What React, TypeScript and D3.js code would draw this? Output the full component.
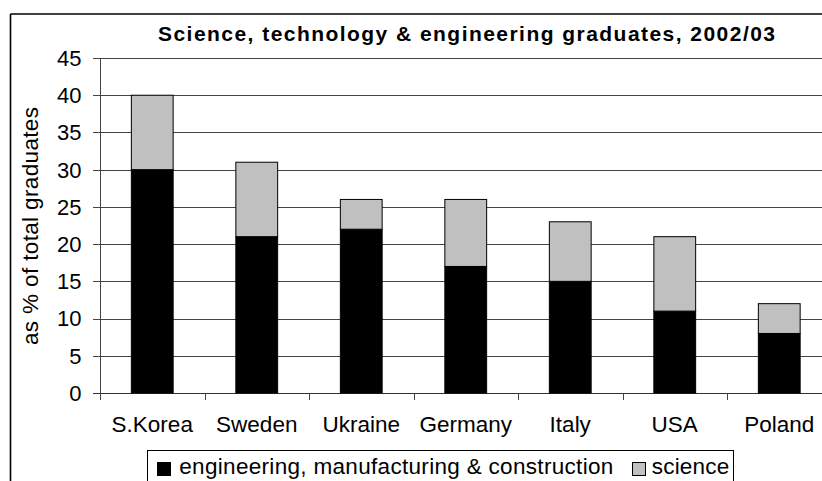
import React from "react";
import * as d3 from "d3";

const categories = ["S.Korea", "Sweden", "Ukraine", "Germany", "Italy", "USA", "Poland"];
const engineering = [30, 21, 22, 17, 15, 11, 8];
const science = [10, 10, 4, 9, 8, 10, 4];
const yTicks = [0, 5, 10, 15, 20, 25, 30, 35, 40, 45];
const title = "Science, technology & engineering graduates, 2002/03";
const yTitle = "as % of total graduates";
const seriesNames = ["engineering, manufacturing & construction", "science"];

const W = 822;
const H = 481;
const FONT = "'Liberation Sans', Arial, Helvetica, sans-serif";
const FS = 22.5;

export default function App() {
  const x = d3
    .scaleBand<string>()
    .domain(categories)
    .range([100, 831.5])
    .paddingInner(0.6)
    .paddingOuter(0.3);
  const y = d3.scaleLinear().domain([0, 45]).range([393, 58]);
  const step = x.step();
  const bandStart = 100;

  const stacked = categories.map((c, i) => ({
    c,
    eng: engineering[i],
    sci: science[i],
  }));

  return (
    <svg
      width={W}
      height={H}
      style={{ position: "absolute", left: 0, top: 0, background: "#fff" }}
      fontFamily={FONT}
    >
      <rect x={0} y={0} width={W} height={H} fill="#fff" />
      {/* outer border */}
      <line x1={10.5} y1={14} x2={W} y2={14} stroke="#000" strokeWidth={1.6} />
      <line x1={10.5} y1={14} x2={10.5} y2={H} stroke="#000" strokeWidth={1.6} />

      <text
        x={158}
        y={40.5}
        fontSize={21}
        fontWeight="bold"
        fill="#000"
        textLength={617}
        lengthAdjust="spacing"
      >
        {title}
      </text>

      {/* gridlines */}
      {yTicks.map((t) => (
        <line
          key={"g" + t}
          x1={93}
          x2={W}
          y1={Math.round(y(t)) + 0.5}
          y2={Math.round(y(t)) + 0.5}
          stroke={t === 0 ? "#333" : "#444"}
          strokeWidth={1}
        />
      ))}
      {yTicks.map((t) => (
        <text
          key={"yl" + t}
          x={81.5}
          y={y(t)}
          dy="0.36em"
          textAnchor="end"
          fontSize={22}
          fill="#000"
        >
          {t}
        </text>
      ))}
      {/* y axis */}
      <line x1={100.5} x2={100.5} y1={y(45)} y2={y(0) + 0.5} stroke="#444" strokeWidth={1} />

      {/* x ticks */}
      {categories.map((c, i) => (
        <line
          key={"xt" + c}
          x1={Math.round(bandStart + i * step) + 0.5}
          x2={Math.round(bandStart + i * step) + 0.5}
          y1={y(0)}
          y2={y(0) + 7}
          stroke="#444"
          strokeWidth={1}
        />
      ))}

      {/* bars */}
      {stacked.map((d) => (
        <g key={d.c}>
          <rect
            x={x(d.c)!}
            y={y(d.eng)}
            width={x.bandwidth()}
            height={y(0) - y(d.eng)}
            fill="#000"
            stroke="#000"
            strokeWidth={1}
          />
          <rect
            x={x(d.c)!}
            y={y(d.eng + d.sci)}
            width={x.bandwidth()}
            height={y(d.eng) - y(d.eng + d.sci)}
            fill="#c0c0c0"
            stroke="#000"
            strokeWidth={1}
          />
        </g>
      ))}

      {/* x labels */}
      {categories.map((c) => (
        <text
          key={"xl" + c}
          x={x(c)! + x.bandwidth() / 2}
          y={432}
          textAnchor="middle"
          fontSize={FS}
          fill="#000"
        >
          {c}
        </text>
      ))}

      {/* y title */}
      <text
        transform={`translate(38,226) rotate(-90)`}
        textAnchor="middle"
        fontSize={FS}
        textLength={238}
        lengthAdjust="spacing"
        fill="#000"
      >
        {yTitle}
      </text>

      {/* legend */}
      <rect x={147.5} y={450.5} width={586} height={40} fill="#fff" stroke="#000" strokeWidth={1} />
      <rect x={157.5} y={462.5} width={13} height={13} fill="#000" stroke="#000" strokeWidth={1} />
      <text x={179.3} y={474} fontSize={FS} fill="#000" textLength={434} lengthAdjust="spacing">
        {seriesNames[0]}
      </text>
      <rect x={632.5} y={462.5} width={13} height={13} fill="#c0c0c0" stroke="#000" strokeWidth={1} />
      <text x={651.7} y={474} fontSize={FS} fill="#000" textLength={77.6} lengthAdjust="spacing">
        {seriesNames[1]}
      </text>
    </svg>
  );
}
